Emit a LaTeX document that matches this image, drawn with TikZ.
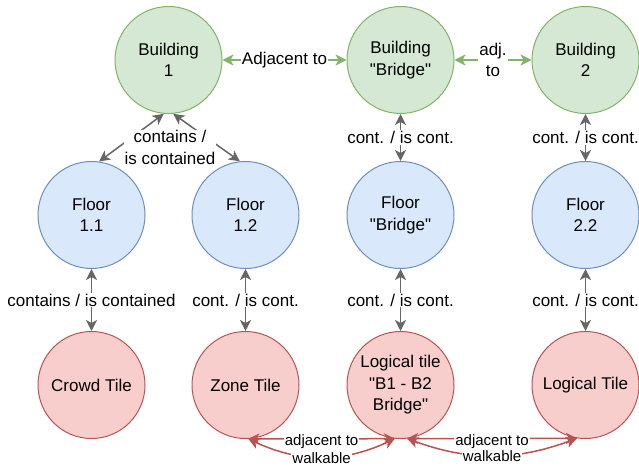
\documentclass[tikz,border=0pt]{standalone}
\usepackage{fontspec}
\setmainfont{Liberation Sans}[Ligatures=TeXOff]
\usetikzlibrary{arrows.meta}
\definecolor{bldgfill}{HTML}{D5E8D4}
\definecolor{bldgline}{HTML}{82B366}
\definecolor{floorfill}{HTML}{DAE8FC}
\definecolor{floorline}{HTML}{6C8EBF}
\definecolor{tilefill}{HTML}{F8CECC}
\definecolor{tileline}{HTML}{B85450}
\definecolor{relgray}{HTML}{666666}

\begin{document}
\begin{tikzpicture}[
  x=1pt,y=-1pt,
  font=\fontsize{17}{21.5}\selectfont,
  place/.style={circle,minimum size=107pt,inner sep=0pt,align=center,line width=1pt},
  bldg/.style={place,draw=bldgline,fill=bldgfill},
  flr/.style={place,draw=floorline,fill=floorfill},
  tile/.style={place,draw=tileline,fill=tilefill},
  tip/.style={{Stealth[length=11pt,width=11pt,inset=3pt]}-{Stealth[length=11pt,width=11pt,inset=3pt]}},
  rel/.style={tip,draw=relgray,line width=1.5pt},
  adj/.style={tip,draw=bldgline,line width=1.5pt},
  walk/.style={tip,draw=tileline,line width=1.5pt},
  lbl/.style={fill=white,inner sep=1pt,align=center},
  small/.style={lbl,font=\fontsize{15}{16}\selectfont}
]
\useasboundingbox (0,0) rectangle (639,468);
% buildings
\node[bldg] (b1) at (168.5,60) {Building\\1};
\node[bldg] (bbr) at (400.5,60) {Building\\"Bridge"};
\node[bldg] (b2) at (585.5,60) {Building\\2};
% floors
\node[flr] (f11) at (91.5,215) {Floor\\1.1};
\node[flr] (f12) at (245.5,215) {Floor\\1.2};
\node[flr] (fbr) at (400.5,215) {Floor\\"Bridge"};
\node[flr] (f22) at (585.5,215) {Floor\\2.2};
% tiles
\node[tile] (t1) at (91.5,385) {Crowd Tile};
\node[tile] (t2) at (245.5,385) {Zone Tile};
\node[tile] (t3) at (400.5,385) {Logical tile\\"B1 - B2\\Bridge"};
\node[tile] (t4) at (585.5,385) {Logical Tile};
% adjacency
\draw[adj] (b1) -- node[lbl] {Adjacent to} (bbr);
\draw[adj] (bbr) -- node[lbl] {adj.\\to} (b2);
% containment
\draw[rel] (b1.-95) -- (f11.82);
\draw[rel] (b1.-85) -- (f12.96);
\node[lbl] (cnt) at (170,147.5) {contains /\\is contained};
\draw[rel] (bbr) -- node[lbl] {cont. / is cont.} (fbr);
\draw[rel] (b2) -- node[lbl] {cont. / is cont.} (f22);
\draw[rel] (f11) -- node[lbl] {contains / is contained} (t1);
\draw[rel] (f12) -- node[lbl] {cont. / is cont.} (t2);
\draw[rel] (fbr) -- node[lbl] {cont. / is cont.} (t3);
\draw[rel] (f22) -- node[lbl] {cont. / is cont.} (t4);
% walkable links
\draw[walk] (t2.-87) -- node[small,yshift=-3pt] {adjacent to} (t3.-96);
\draw[walk] (t2.-87) to[bend right=25] node[small,yshift=-1pt] {walkable} (t3.-96);
\draw[walk] (t3.-83) -- node[small,yshift=-3pt] {adjacent to} (t4.-99);
\draw[walk] (t3.-83) to[bend right=20] node[small,yshift=-1pt] {walkable} (t4.-99);
\end{tikzpicture}
\end{document}
